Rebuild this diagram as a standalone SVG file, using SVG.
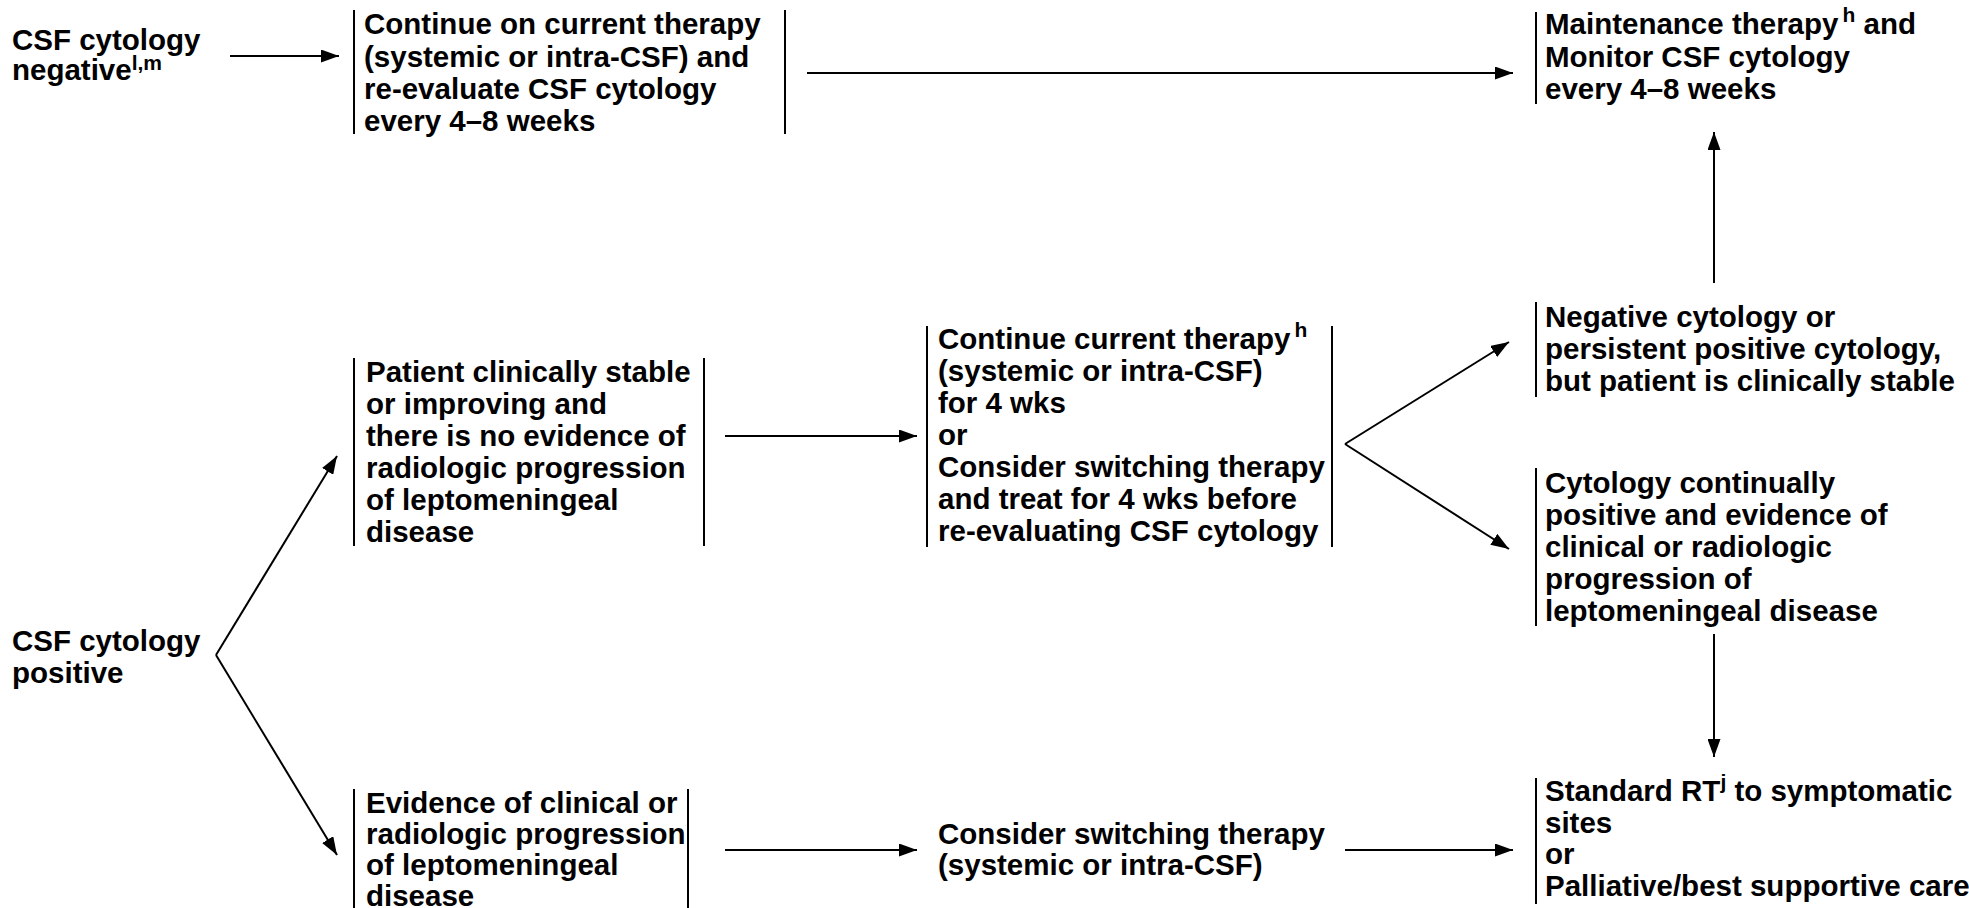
<svg xmlns="http://www.w3.org/2000/svg" width="1969" height="908" viewBox="0 0 1969 908">
<defs>
<style>
.t{font-family:"Liberation Sans",Arial,Helvetica,sans-serif;font-weight:bold;font-size:29.5px;fill:#000}
.sup{font-size:21px}
.bar{stroke:#000;stroke-width:2;fill:none}
.edge{stroke:#000;stroke-width:2;fill:none;marker-end:url(#ah)}
</style>
<marker id="ah" markerUnits="userSpaceOnUse" markerWidth="18" markerHeight="13" refX="18" refY="6.5" orient="auto">
<path d="M0,0 L18,6.5 L0,13 z" fill="#000"/>
</marker>
</defs>
<rect width="1969" height="908" fill="#fff"/>

<g id="connectors">
<path class="edge" d="M230,56 L339,56"/>
<path class="edge" d="M807,73 L1513,73"/>
<path class="edge" d="M1714,283 L1714,132"/>
<path class="edge" d="M725,436 L917,436"/>
<path class="edge" d="M1345,444 L1509,342"/>
<path class="edge" d="M1345,444 L1509,549"/>
<path class="edge" d="M1714,634 L1714,757"/>
<path class="edge" d="M216,655 L337,456"/>
<path class="edge" d="M216,655 L337,855"/>
<path class="edge" d="M725,850 L917,850"/>
<path class="edge" d="M1345,850 L1513,850"/>
</g>

<g id="node-csf-negative">
<text class="t" x="12" y="50">CSF cytology</text>
<text class="t" x="12" y="80">negative<tspan class="sup" dy="-10">l,m</tspan></text>
</g>

<g id="node-continue-reevaluate">
<line class="bar" x1="354" y1="10" x2="354" y2="134"/>
<line class="bar" x1="785" y1="10" x2="785" y2="134"/>
<text class="t" x="364" y="34">Continue on current therapy</text>
<text class="t" x="364" y="67">(systemic or intra-CSF) and</text>
<text class="t" x="364" y="99">re-evaluate CSF cytology</text>
<text class="t" x="364" y="131">every 4–8 weeks</text>
</g>

<g id="node-maintenance">
<line class="bar" x1="1536" y1="12" x2="1536" y2="104"/>
<text class="t" x="1545" y="34">Maintenance therapy<tspan class="sup" dx="4" dy="-12">h</tspan><tspan dy="12"> and</tspan></text>
<text class="t" x="1545" y="67">Monitor CSF cytology</text>
<text class="t" x="1545" y="99">every 4–8 weeks</text>
</g>

<g id="node-stable">
<line class="bar" x1="354" y1="358" x2="354" y2="546"/>
<line class="bar" x1="704" y1="358" x2="704" y2="546"/>
<text class="t" x="366" y="382">Patient clinically stable</text>
<text class="t" x="366" y="414">or improving and</text>
<text class="t" x="366" y="446">there is no evidence of</text>
<text class="t" x="366" y="478">radiologic progression</text>
<text class="t" x="366" y="510">of leptomeningeal</text>
<text class="t" x="366" y="542">disease</text>
</g>

<g id="node-continue-current">
<line class="bar" x1="927" y1="326" x2="927" y2="547"/>
<line class="bar" x1="1332" y1="326" x2="1332" y2="547"/>
<text class="t" x="938" y="349">Continue current therapy<tspan class="sup" dx="4" dy="-12">h</tspan></text>
<text class="t" x="938" y="381">(systemic or intra-CSF)</text>
<text class="t" x="938" y="413">for 4 wks</text>
<text class="t" x="938" y="445">or</text>
<text class="t" x="938" y="477">Consider switching therapy</text>
<text class="t" x="938" y="509">and treat for 4 wks before</text>
<text class="t" x="938" y="541">re-evaluating CSF cytology</text>
</g>

<g id="node-negative-cytology">
<line class="bar" x1="1536" y1="302" x2="1536" y2="397"/>
<text class="t" x="1545" y="327">Negative cytology or</text>
<text class="t" x="1545" y="359">persistent positive cytology,</text>
<text class="t" x="1545" y="391">but patient is clinically stable</text>
</g>

<g id="node-continually-positive">
<line class="bar" x1="1536" y1="468" x2="1536" y2="626"/>
<text class="t" x="1545" y="493">Cytology continually</text>
<text class="t" x="1545" y="525">positive and evidence of</text>
<text class="t" x="1545" y="557">clinical or radiologic</text>
<text class="t" x="1545" y="589">progression of</text>
<text class="t" x="1545" y="621">leptomeningeal disease</text>
</g>

<g id="node-csf-positive">
<text class="t" x="12" y="651">CSF cytology</text>
<text class="t" x="12" y="683">positive</text>
</g>

<g id="node-progression">
<line class="bar" x1="354" y1="789" x2="354" y2="908"/>
<line class="bar" x1="688" y1="789" x2="688" y2="908"/>
<text class="t" x="366" y="813">Evidence of clinical or</text>
<text class="t" x="366" y="844">radiologic progression</text>
<text class="t" x="366" y="875">of leptomeningeal</text>
<text class="t" x="366" y="906">disease</text>
</g>

<g id="node-consider-switching">
<text class="t" x="938" y="844">Consider switching therapy</text>
<text class="t" x="938" y="875">(systemic or intra-CSF)</text>
</g>

<g id="node-standard-rt">
<line class="bar" x1="1536" y1="778" x2="1536" y2="904"/>
<text class="t" x="1545" y="801">Standard RT<tspan class="sup" dy="-12">j</tspan><tspan dy="12"> to symptomatic</tspan></text>
<text class="t" x="1545" y="833">sites</text>
<text class="t" x="1545" y="864">or</text>
<text class="t" x="1545" y="896">Palliative/best supportive care</text>
</g>
</svg>
